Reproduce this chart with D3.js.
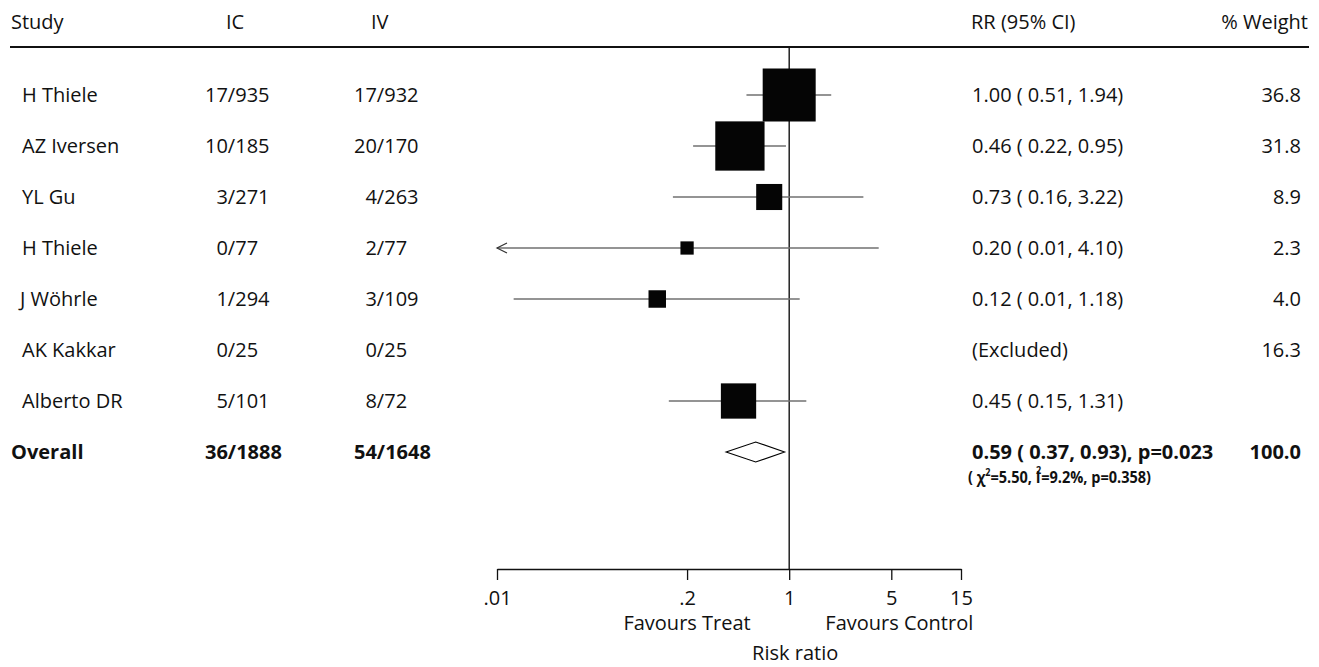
<!DOCTYPE html>
<html>
<head>
<meta charset="utf-8">
<script src="https://cdn.jsdelivr.net/npm/d3@7"></script>
<style>
  html, body { margin: 0; padding: 0; background: #fff; }
  svg { display: block; font-family: 'Open Sans', sans-serif; }
</style>
</head>
<body>
<div id="forest"></div>
<script>
// study rows, top to bottom
const studies = ['H Thiele', 'AZ Iversen', 'YL Gu', 'H Thiele', 'J Wöhrle', 'AK Kakkar', 'Alberto DR'];
const icEvents = ['17/935', '10/185', '3/271', '0/77', '1/294', '0/25', '5/101'];
const ivEvents = ['17/932', '20/170', '4/263', '2/77', '3/109', '0/25', '8/72'];
const rr = [1.00, 0.46, 0.73, 0.20, 0.125, null, 0.45];
const rrLow = [0.51, 0.22, 0.16, 0.0098, 0.013, null, 0.15];
const rrHigh = [1.94, 0.95, 3.22, 4.10, 1.18, null, 1.31];
const rrLabels = ['1.00 ( 0.51, 1.94)', '0.46 ( 0.22, 0.95)', '0.73 ( 0.16, 3.22)', '0.20 ( 0.01, 4.10)',
  '0.12 ( 0.01, 1.18)', '(Excluded)', '0.45 ( 0.15, 1.31)'];
const boxWeights = [36.8, 31.8, 8.9, 2.3, 4.0, null, 16.3];
const weightLabels = ['36.8', '31.8', '8.9', '2.3', '4.0', '16.3', ''];

// overall
const overall = { label: 'Overall', ic: '36/1888', iv: '54/1648', rr: 0.59, lo: 0.37, hi: 0.93,
  text: '0.59 ( 0.37, 0.93), p=0.023', weight: '100.0' };

const tickValues = [0.01, 0.2, 1, 5, 15];
const tickLabels = ['.01', '.2', '1', '5', '15'];

const width = 1319;
const height = 667;

const svg = d3.select('#forest')
  .append('svg')
  .attr('width', width)
  .attr('height', height)
  .attr('viewBox', [0, 0, width, height]);

const x = d3.scaleLog().domain([0.01, 15]).range([497, 961]);
const y = d3.scalePoint().domain(d3.range(studies.length + 1)).range([95, 452]);
const box = d3.scaleSqrt().domain([0, 36.8]).range([0, 53]);

const axisY = 569;
const textDy = 7;

// pad single digit numerators with a figure space so columns line up like the original
const pad = s => (s.indexOf('/') === 1 ? '\u2007' : '') + s;

// header
const header = svg.append('g').attr('font-size', '20px').attr('fill', '#111');
header.append('text').attr('x', 11).attr('y', 29).text('Study');
header.append('text').attr('x', 226).attr('y', 29).text('IC');
header.append('text').attr('x', 371).attr('y', 29).text('IV');
header.append('text').attr('x', 971).attr('y', 29).text('RR (95% CI)');
header.append('text').attr('x', 1308).attr('y', 29).attr('text-anchor', 'end').text('% Weight');

svg.append('line')
  .attr('x1', 10).attr('x2', 1309)
  .attr('y1', 47).attr('y2', 47)
  .attr('stroke', '#111')
  .attr('stroke-width', 2.2);

// reference line at RR = 1
svg.append('line')
  .attr('x1', x(1)).attr('x2', x(1))
  .attr('y1', 48).attr('y2', axisY)
  .attr('stroke', '#000')
  .attr('stroke-width', 1.3);

const rows = studies.map((s, i) => ({
  i, study: s, ic: icEvents[i], iv: ivEvents[i], rr: rr[i], lo: rrLow[i], hi: rrHigh[i],
  text: rrLabels[i], w: boxWeights[i], weight: weightLabels[i]
}));

// CI lines
const plotted = rows.filter(d => d.rr != null);
const [xMin] = x.domain();

svg.append('g')
  .selectAll('line')
  .data(plotted)
  .join('line')
  .attr('x1', d => x(Math.max(d.lo, xMin)))
  .attr('x2', d => x(d.hi))
  .attr('y1', d => y(d.i))
  .attr('y2', d => y(d.i))
  .attr('stroke', '#707070')
  .attr('stroke-width', 1.6);

// arrowheads for intervals running past the axis
svg.append('g')
  .selectAll('path')
  .data(plotted.filter(d => d.lo < xMin))
  .join('path')
  .attr('d', d => {
    const x0 = x(xMin), y0 = y(d.i);
    return `M${x0 + 10},${y0 - 5}L${x0},${y0}L${x0 + 10},${y0 + 5}`;
  })
  .attr('fill', 'none')
  .attr('stroke', '#333')
  .attr('stroke-width', 1.2);

// weighted boxes
svg.append('g')
  .selectAll('rect')
  .data(plotted)
  .join('rect')
  .attr('x', d => x(d.rr) - box(d.w) / 2)
  .attr('y', d => y(d.i) - box(d.w) / 2)
  .attr('width', d => box(d.w))
  .attr('height', d => box(d.w))
  .attr('fill', '#050505');

// overall diamond
const oy = y(studies.length);
svg.append('path')
  .attr('d', `M${x(overall.lo)},${oy}L${x(overall.rr)},${oy - 10}L${x(overall.hi)},${oy}L${x(overall.rr)},${oy + 10}Z`)
  .attr('fill', '#fff')
  .attr('stroke', '#000')
  .attr('stroke-width', 1.1);

// table text
const table = svg.append('g').attr('font-size', '20px').attr('fill', '#111');
const rowText = table.selectAll('g')
  .data(rows)
  .join('g')
  .attr('transform', d => `translate(0,${y(d.i) + textDy})`);

rowText.append('text').attr('x', d => d.study.startsWith('J') ? 20 : 22).text(d => d.study);
rowText.append('text').attr('x', 205).text(d => pad(d.ic));
rowText.append('text').attr('x', 354).text(d => pad(d.iv));
rowText.append('text').attr('x', 972).text(d => d.text);
rowText.append('text').attr('x', 1301).attr('text-anchor', 'end').text(d => d.weight);

const ov = table.append('g')
  .attr('font-weight', 'bold')
  .attr('transform', `translate(0,${oy + textDy})`);
ov.append('text').attr('x', 11).text(overall.label);
ov.append('text').attr('x', 205).text(overall.ic);
ov.append('text').attr('x', 354).text(overall.iv);
ov.append('text').attr('x', 972).text(overall.text);
ov.append('text').attr('x', 1301).attr('text-anchor', 'end').text(overall.weight);

// heterogeneity, squeezed to the narrow width of the original
const het = svg.append('text')
  .attr('x', 968)
  .attr('y', 483)
  .attr('font-size', '16px')
  .attr('font-weight', 'bold')
  .attr('fill', '#111')
  .attr('textLength', 183)
  .attr('lengthAdjust', 'spacingAndGlyphs');
het.append('tspan').text('( \u03c7');
het.append('tspan').attr('font-size', '10px').attr('dy', -7).text('2');
het.append('tspan').attr('dy', 7).text('=5.50, I');
het.append('tspan').attr('font-size', '10px').attr('dx', -5).attr('dy', -9).text('2');
het.append('tspan').attr('dy', 9).text('=9.2%, p=0.358)');

// axis
const axis = svg.append('g')
  .attr('transform', `translate(0,${axisY})`)
  .call(d3.axisBottom(x)
    .tickValues(tickValues)
    .tickFormat((d, i) => tickLabels[i])
    .tickSize(11)
    .tickSizeOuter(0)
    .tickPadding(11));

axis.select('.domain').attr('stroke', '#111').attr('stroke-width', 1.3);
axis.selectAll('.tick line').attr('stroke', '#111').attr('stroke-width', 1.3);
axis.selectAll('.tick text')
  .attr('font-size', '20px')
  .attr('font-family', "'Open Sans', sans-serif")
  .attr('fill', '#111');

const notes = svg.append('g').attr('font-size', '20px').attr('fill', '#111').attr('text-anchor', 'middle');
notes.append('text').attr('x', x(0.2)).attr('y', 630).text('Favours Treat');
notes.append('text').attr('x', x(5) + 8).attr('y', 630).text('Favours Control');
notes.append('text').attr('x', x(1) + 6).attr('y', 660).text('Risk ratio');
</script>
</body>
</html>
